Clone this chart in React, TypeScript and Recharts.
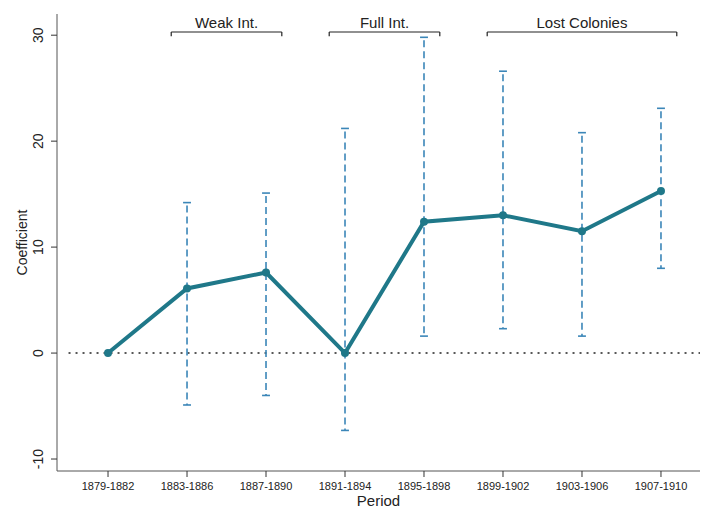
import { LineChart, Line, XAxis, YAxis, ReferenceLine, ReferenceDot, Label } from "recharts";

// Periods on the x axis
const periods = [
    "1879-1882",
    "1883-1886",
    "1887-1890",
    "1891-1894",
    "1895-1898",
    "1899-1902",
    "1903-1906",
    "1907-1910",
];

// Point estimates and 95% interval ends (first period is the reference)
const coefs = [0, 6.1, 7.6, 0, 12.4, 13.0, 11.5, 15.3];
const ciLow = [null, -4.9, -4.0, -7.3, 1.6, 2.3, 1.6, 8.0];
const ciHigh = [null, 14.2, 15.1, 21.2, 29.8, 26.6, 20.8, 23.1];

// Bracket groups above the plot (first and last period index)
const groupLabels = ["Weak Int.", "Full Int.", "Lost Colonies"];
const groupFrom = [1, 3, 5];
const groupTo = [2, 4, 7];

const yTicks = [-10, 0, 10, 20, 30];
const xTicks = periods.map((_, i) => i);

const lineColor = "#1f7889";
const ciColor = "#3b86b8";
const font = "'Liberation Sans', Arial, Helvetica, sans-serif";

const data = periods.map((p, i) => ({ x: i, period: p, coef: coefs[i] }));

const bracketY = 30.3;
const bracketTick = 29.9;
const capHalf = 0.05;

const YTick = (props: any) => {
    const { x, y, payload } = props;
    return (
        <text
            x={x}
            y={y}
            transform={`rotate(-90, ${x}, ${y})`}
            textAnchor="middle"
            fontSize={14}
            fill="#222"
            fontFamily={font}
        >
            {payload.value}
        </text>
    );
};

export default function App() {
    return (
        <div style={{ position: "absolute", left: 0, top: 0, background: "#fff" }}>
            <LineChart
                width={702}
                height={508}
                data={data}
                margin={{ top: 14, right: 2, bottom: 0, left: 0 }}
                style={{ fontFamily: font }}
            >
                <XAxis
                    dataKey="x"
                    type="number"
                    domain={[-0.646, 7.494]}
                    ticks={xTicks}
                    allowDataOverflow
                    tickFormatter={(v) => periods[v] ?? ""}
                    tick={{ fontSize: 11, fill: "#222", stroke: "none" }}
                    tickSize={6}
                    tickMargin={5}
                    height={37}
                    stroke="#555"
                    tickLine={{ stroke: "#333" }}
                    interval={0}
                >
                    <Label
                        content={(props: any) => {
                            const vb = props.viewBox;
                            const cx = vb.x + vb.width / 2;
                            return (
                                <text x={cx} y={506} textAnchor="middle" fontSize={15} fill="#222" fontFamily={font}>
                                    Period
                                </text>
                            );
                        }}
                    />
                </XAxis>
                <YAxis
                    type="number"
                    domain={[-11.13, 32]}
                    ticks={yTicks}
                    allowDataOverflow
                    width={57}
                    tickSize={6}
                    tickMargin={8}
                    tick={<YTick />}
                    stroke="#555"
                    tickLine={{ stroke: "#333" }}
                >
                    <Label
                        content={(props: any) => {
                            const vb = props.viewBox;
                            const cy = vb.y + vb.height / 2;
                            return (
                                <text
                                    x={27}
                                    y={cy}
                                    transform={`rotate(-90, 27, ${cy})`}
                                    textAnchor="middle"
                                    fontSize={14}
                                    fill="#222"
                                    fontFamily={font}
                                >
                                    Coefficient
                                </text>
                            );
                        }}
                    />
                </YAxis>

                {/* zero line */}
                <ReferenceLine
                    segment={[{ x: -0.5, y: 0 }, { x: 7.494, y: 0 }]}
                    stroke="#222"
                    strokeWidth={1.5}
                    strokeDasharray="2 5"
                />

                {/* brackets */}
                {groupLabels.map((g, i) => (
                    <ReferenceLine
                        key={`br-${i}`}
                        segment={[
                            { x: groupFrom[i] - 0.2, y: bracketY },
                            { x: groupTo[i] + 0.2, y: bracketY },
                        ]}
                        stroke="#222"
                        strokeWidth={1.2}
                        ifOverflow="visible"
                    />
                ))}
                {groupLabels.map((g, i) => (
                    <ReferenceLine
                        key={`brl-${i}`}
                        segment={[
                            { x: groupFrom[i] - 0.2, y: bracketY },
                            { x: groupFrom[i] - 0.2, y: bracketTick },
                        ]}
                        stroke="#222"
                        strokeWidth={1.2}
                        ifOverflow="visible"
                    />
                ))}
                {groupLabels.map((g, i) => (
                    <ReferenceLine
                        key={`brr-${i}`}
                        segment={[
                            { x: groupTo[i] + 0.2, y: bracketY },
                            { x: groupTo[i] + 0.2, y: bracketTick },
                        ]}
                        stroke="#222"
                        strokeWidth={1.2}
                        ifOverflow="visible"
                    />
                ))}
                {groupLabels.map((g, i) => (
                    <ReferenceDot
                        key={`brt-${i}`}
                        x={(groupFrom[i] + groupTo[i]) / 2}
                        y={bracketY}
                        r={0}
                        fill="none"
                        stroke="none"
                        ifOverflow="visible"
                        label={{ value: g, position: "top", offset: 4, fontSize: 15, fill: "#222", fontFamily: font }}
                    />
                ))}

                {/* confidence intervals */}
                {periods.map((p, i) =>
                    ciLow[i] == null ? null : (
                        <ReferenceLine
                            key={`ci-${i}`}
                            segment={[{ x: i, y: ciHigh[i] as number }, { x: i, y: ciLow[i] as number }]}
                            stroke={ciColor}
                            strokeWidth={1.6}
                            strokeDasharray="7 4"
                            strokeDashoffset={-3}
                        />
                    )
                )}
                {periods.map((p, i) =>
                    ciLow[i] == null ? null : (
                        <ReferenceLine
                            key={`cih-${i}`}
                            segment={[{ x: i - capHalf, y: ciHigh[i] as number }, { x: i + capHalf, y: ciHigh[i] as number }]}
                            stroke={ciColor}
                            strokeWidth={1.6}
                        />
                    )
                )}
                {periods.map((p, i) =>
                    ciLow[i] == null ? null : (
                        <ReferenceLine
                            key={`cil-${i}`}
                            segment={[{ x: i - capHalf, y: ciLow[i] as number }, { x: i + capHalf, y: ciLow[i] as number }]}
                            stroke={ciColor}
                            strokeWidth={1.6}
                        />
                    )
                )}

                <Line
                    dataKey="coef"
                    type="linear"
                    stroke={lineColor}
                    strokeWidth={4}
                    dot={{ r: 4, fill: lineColor, stroke: lineColor, strokeWidth: 0 }}
                    activeDot={false}
                    isAnimationActive={false}
                />
            </LineChart>
        </div>
    );
}
